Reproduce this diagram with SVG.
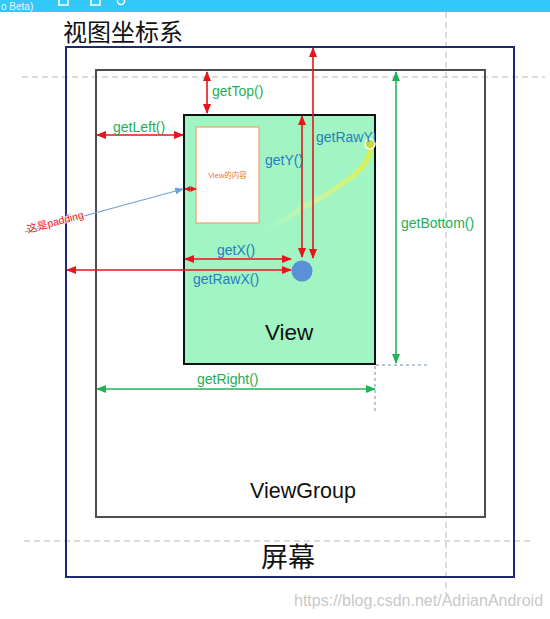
<svg xmlns="http://www.w3.org/2000/svg" width="550" height="619" viewBox="0 0 550 619">
<style>
.lbl{font-family:"Liberation Sans","Noto Sans CJK SC",sans-serif;font-size:14px}
.g{fill:#1fae55}
.b{fill:#2a7cc0}
.red{stroke:#e8141c;stroke-width:1.6;fill:none}
.grn{stroke:#22b35a;stroke-width:1.6;fill:none}
.dash{stroke:#b8b8b8;stroke-width:1;stroke-dasharray:6 4;fill:none}
.dot{stroke:#7090b0;stroke-width:1;stroke-dasharray:3 3;fill:none}
</style>
<defs>
<marker id="ar" markerUnits="userSpaceOnUse" markerWidth="10" markerHeight="8" refX="9" refY="4" orient="auto-start-reverse"><path d="M0,0 L10,4 L0,8 Z" fill="#e8141c"/></marker>
<marker id="ag" markerUnits="userSpaceOnUse" markerWidth="10" markerHeight="8" refX="9" refY="4" orient="auto-start-reverse"><path d="M0,0 L10,4 L0,8 Z" fill="#22b35a"/></marker>
<marker id="ab" markerUnits="userSpaceOnUse" markerWidth="9" markerHeight="7" refX="8" refY="3.5" orient="auto"><path d="M0,0 L9,3.5 L0,7 Z" fill="#6fa0d8"/></marker>
<marker id="ap" markerUnits="userSpaceOnUse" markerWidth="6" markerHeight="6" refX="5.5" refY="3" orient="auto-start-reverse"><path d="M0,0 L6,3 L0,6 Z" fill="#e8141c"/></marker>
<linearGradient id="trail" x1="370" y1="145" x2="265" y2="235" gradientUnits="userSpaceOnUse">
<stop offset="0" stop-color="#d8f040" stop-opacity="1"/>
<stop offset="0.5" stop-color="#e4f580" stop-opacity="0.6"/>
<stop offset="1" stop-color="#f0ffb0" stop-opacity="0"/>
</linearGradient>
<clipPath id="vclip"><rect x="184" y="115" width="191" height="249"/></clipPath>
</defs>
<rect x="0" y="0" width="550" height="619" fill="#ffffff"/>
<g id="titlebar">
<rect x="0" y="0" width="550" height="12" fill="#33c8fa"/>
<text x="1" y="9.5" font-family="Liberation Sans,sans-serif" font-size="10" fill="#e8f8ff">o Beta)</text>
<rect x="59" y="-4" width="9" height="9" fill="none" stroke="#ffffff" stroke-width="1.5"/>
<rect x="91" y="-4" width="9" height="9" fill="none" stroke="#ffffff" stroke-width="1.5"/>
<circle cx="121" cy="1" r="3.5" fill="none" stroke="#ffffff" stroke-width="1.5"/>
</g>
<g id="guides">
<line class="dash" x1="22" y1="77" x2="545" y2="77"/>
<line class="dash" x1="24" y1="541" x2="532" y2="541"/>
<line class="dash" x1="446" y1="12" x2="446" y2="594"/>
</g>
<g id="screen">
<rect x="66" y="47" width="448" height="530" fill="none" stroke="#1f2a6b" stroke-width="2"/>
<text x="63" y="41" font-family="Noto Sans CJK SC,sans-serif" font-size="24" fill="#111">视图坐标系</text>
<text x="261" y="567" font-family="Noto Sans CJK SC,sans-serif" font-size="27" fill="#111">屏幕</text>
</g>
<g id="viewgroup">
<rect x="96" y="70" width="389" height="447" fill="none" stroke="#4d4d4d" stroke-width="2"/>
<text x="250" y="498" font-family="Liberation Sans,sans-serif" font-size="21.5" fill="#111">ViewGroup</text>
</g>
<g id="view">
<rect x="184" y="115" width="191" height="249" fill="#a0f5c3" stroke="#111" stroke-width="2"/>
<text x="265" y="340" font-family="Liberation Sans,sans-serif" font-size="22.5" fill="#111">View</text>
</g>
<g id="content">
<rect x="196" y="127" width="63" height="96" fill="#ffffff" stroke="#f0a070" stroke-width="1.2"/>
<text x="227.5" y="178" text-anchor="middle" font-family="Liberation Sans,Noto Sans CJK SC,sans-serif" font-size="7.5" fill="#e87830">View的内容</text>
</g>
<g id="trail-point">
<path d="M370,146 C372,165 350,180 320,198 C295,212 275,225 262,236" stroke="url(#trail)" stroke-width="5" fill="none" stroke-linecap="round"/>
<circle cx="370" cy="144" r="5" fill="#c5dc3a" stroke="#ffffff" stroke-width="1.5"/>
</g>
<g id="touch">
<circle cx="302" cy="271" r="10.5" fill="#5a90d5"/>
</g>
<g id="connectors">
<line class="red" x1="207" y1="72" x2="207" y2="113" marker-start="url(#ar)" marker-end="url(#ar)"/>
<line class="red" x1="97" y1="135" x2="183" y2="135" marker-start="url(#ar)" marker-end="url(#ar)"/>
<line class="red" x1="313" y1="48" x2="313" y2="258" marker-start="url(#ar)" marker-end="url(#ar)"/>
<line class="red" x1="302" y1="116" x2="302" y2="257" marker-start="url(#ar)" marker-end="url(#ar)"/>
<line class="red" x1="185" y1="259" x2="291" y2="259" marker-start="url(#ar)" marker-end="url(#ar)"/>
<line class="red" x1="67" y1="270" x2="291" y2="270" marker-start="url(#ar)" marker-end="url(#ar)"/>
<line class="red" x1="185" y1="189" x2="196" y2="189" marker-start="url(#ap)" marker-end="url(#ap)"/>
<line x1="25" y1="232" x2="183" y2="189" stroke="#6fa0d8" stroke-width="1.2" marker-end="url(#ab)"/>
<line class="grn" x1="396" y1="72" x2="396" y2="363" marker-start="url(#ag)" marker-end="url(#ag)"/>
<line class="grn" x1="97" y1="389" x2="375" y2="389" marker-start="url(#ag)" marker-end="url(#ag)"/>
<line class="dot" x1="376" y1="365" x2="428" y2="365"/>
<line class="dot" x1="375" y1="366" x2="375" y2="412"/>
</g>
<g id="labels">
<text class="lbl g" x="212" y="96">getTop()</text>
<text class="lbl g" x="113" y="132">getLeft()</text>
<text class="lbl g" x="401" y="228">getBottom()</text>
<text class="lbl g" x="197" y="384">getRight()</text>
<text class="lbl b" x="265" y="165">getY()</text>
<text class="lbl b" x="316" y="142" clip-path="url(#vclip)">getRawY()</text>
<text class="lbl b" x="217" y="255">getX()</text>
<text class="lbl b" x="193" y="284">getRawX()</text>
<text x="0" y="0" transform="translate(28,233) rotate(-15)" font-family="Liberation Sans,Noto Sans CJK SC,sans-serif" font-size="10.5" fill="#e8141c" stroke="#ffffff" stroke-width="1.5" paint-order="stroke">这是padding</text>
</g>
<g id="watermark">
<text x="294" y="606" font-family="Liberation Sans,sans-serif" font-size="16" fill="#c8c8c8">https://blog.csdn.net/AdrianAndroid</text>
</g>
</svg>
